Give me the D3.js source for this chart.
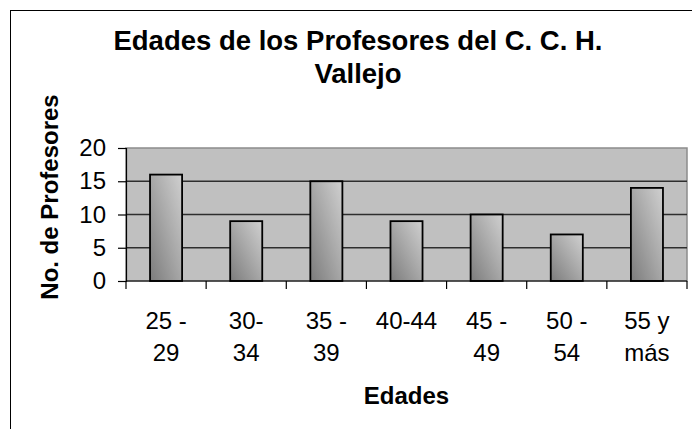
<!DOCTYPE html>
<html>
<head>
<meta charset="utf-8">
<script src="https://cdn.jsdelivr.net/npm/d3@7"></script>
<style>
  body { margin: 0; background: #fff; }
  text { font-family: "Liberation Sans", Arial, sans-serif; fill: #000; }
</style>
</head>
<body>
<svg id="chart" width="692" height="429"></svg>
<script>
var categories = ["25 - 29", "30- 34", "35 - 39", "40-44", "45 - 49", "50 - 54", "55 y más"];
var catLines = [["25 -", "29"], ["30-", "34"], ["35 -", "39"], ["40-44"], ["45 -", "49"], ["50 -", "54"], ["55 y", "más"]];
var profesores = [16, 9, 15, 9, 10, 7, 14];
var yTicks = [0, 5, 10, 15, 20];
var titleLines = ["Edades de los Profesores del C. C. H.", "Vallejo"];

var svg = d3.select("#chart");

// outer chart border (runs off the right and bottom edges)
svg.append("rect")
    .attr("x", 10.5).attr("y", 10.5)
    .attr("width", 720).attr("height", 440)
    .attr("fill", "#fff")
    .attr("stroke", "#000")
    .attr("stroke-width", 1);

var plot = { left: 126, top: 148, right: 687, bottom: 281 };

var x = d3.scaleBand()
    .domain(categories)
    .range([plot.left, plot.right])
    .paddingInner(0.6)
    .paddingOuter(0.3);

var y = d3.scaleLinear()
    .domain([0, 20])
    .range([plot.bottom, plot.top]);

var defs = svg.append("defs");
var grad = defs.append("linearGradient")
    .attr("id", "barGrad")
    .attr("x1", "0%").attr("y1", "100%")
    .attr("x2", "100%").attr("y2", "0%");
grad.append("stop").attr("offset", "0%").attr("stop-color", "#7c7c7c");
grad.append("stop").attr("offset", "55%").attr("stop-color", "#ababab");
grad.append("stop").attr("offset", "100%").attr("stop-color", "#d0d0d0");

// plot area background
svg.append("rect")
    .attr("x", plot.left).attr("y", plot.top)
    .attr("width", plot.right - plot.left)
    .attr("height", plot.bottom - plot.top)
    .attr("fill", "#c0c0c0")
    .attr("stroke", "#8c8c8c")
    .attr("stroke-width", 1.5);

// gridlines
svg.selectAll(".grid")
    .data(yTicks.filter(function (d) { return d > 0 && d < 20; }))
    .enter()
    .append("line")
    .attr("class", "grid")
    .attr("x1", plot.left).attr("x2", plot.right)
    .attr("y1", function (d) { return y(d); })
    .attr("y2", function (d) { return y(d); })
    .attr("stroke", "#2e2e2e")
    .attr("stroke-width", 1.3);

// bars
svg.selectAll(".bar")
    .data(profesores)
    .enter()
    .append("rect")
    .attr("class", "bar")
    .attr("x", function (d, i) { return x(categories[i]); })
    .attr("y", function (d) { return y(d); })
    .attr("width", x.bandwidth())
    .attr("height", function (d) { return y(0) - y(d); })
    .attr("fill", "url(#barGrad)")
    .attr("stroke", "#000")
    .attr("stroke-width", 1.8);

// y axis
var yAxis = d3.axisLeft(y).tickValues(yTicks).tickSize(8).tickPadding(12);
var gy = svg.append("g")
    .attr("transform", "translate(" + plot.left + ",0)")
    .call(yAxis);
gy.select(".domain").attr("stroke", "#000").attr("stroke-width", 1.2);
gy.selectAll(".tick line").attr("stroke", "#000").attr("stroke-width", 1.2);
gy.selectAll(".tick text")
    .style("font-size", "24px")
    .style("font-family", "'Liberation Sans', Arial, sans-serif")
    .attr("fill", "#000");

// x axis: ticks at category boundaries
var boundaries = d3.range(categories.length + 1).map(function (i) {
    return plot.left + i * (plot.right - plot.left) / categories.length;
});
svg.append("line")
    .attr("x1", plot.left).attr("x2", plot.right)
    .attr("y1", plot.bottom).attr("y2", plot.bottom)
    .attr("stroke", "#000").attr("stroke-width", 1.2);
svg.selectAll(".xtick")
    .data(boundaries)
    .enter()
    .append("line")
    .attr("class", "xtick")
    .attr("x1", function (d) { return d; })
    .attr("x2", function (d) { return d; })
    .attr("y1", plot.bottom).attr("y2", plot.bottom + 8)
    .attr("stroke", "#000").attr("stroke-width", 1.2);

// x tick labels (wrapped)
var xl = svg.selectAll(".xlabel")
    .data(catLines)
    .enter()
    .append("text")
    .attr("class", "xlabel")
    .attr("text-anchor", "middle")
    .style("font-size", "24px");
xl.each(function (lines, i) {
    var cx = x(categories[i]) + x.bandwidth() / 2;
    d3.select(this).selectAll("tspan")
        .data(lines)
        .enter()
        .append("tspan")
        .attr("x", cx)
        .attr("y", function (d, j) { return 329 + j * 32; })
        .text(function (d) { return d; });
});

// title
svg.selectAll(".title")
    .data(titleLines)
    .enter()
    .append("text")
    .attr("class", "title")
    .attr("x", 358)
    .attr("y", function (d, i) { return 50 + i * 33; })
    .attr("text-anchor", "middle")
    .style("font-size", "27.5px")
    .style("font-weight", "bold")
    .text(function (d) { return d; });

// axis titles
svg.append("text")
    .attr("x", (plot.left + plot.right) / 2)
    .attr("y", 404)
    .attr("text-anchor", "middle")
    .style("font-size", "24px")
    .style("font-weight", "bold")
    .text("Edades");

svg.append("text")
    .attr("transform", "translate(58," + 197 + ") rotate(-90)")
    .attr("text-anchor", "middle")
    .style("font-size", "24px")
    .style("font-weight", "bold")
    .text("No. de Profesores");
</script>
</body>
</html>
